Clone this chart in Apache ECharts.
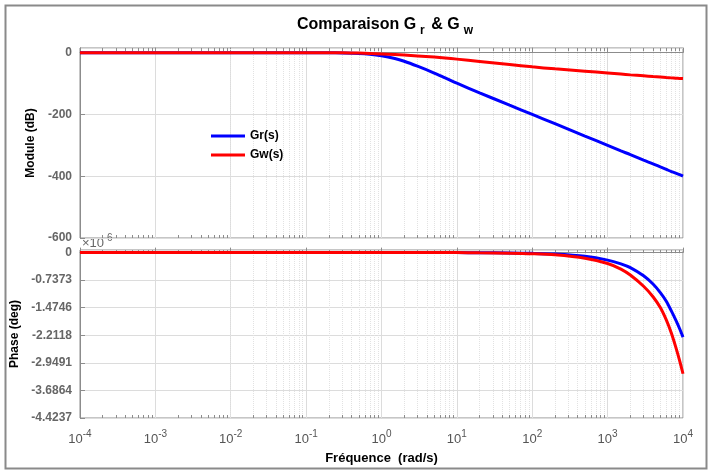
<!DOCTYPE html>
<html>
<head>
<meta charset="utf-8">
<script src="https://cdn.jsdelivr.net/npm/echarts@6/dist/echarts.min.js"></script>
<style>
html,body{margin:0;padding:0;background:#fff;}
#chart{width:708px;height:476px;}
</style>
</head>
<body>
<div id="chart"></div>
<script>
// ---- data ----
const freq = [1e-4, 1e-3, 1e-2, 0.1, 0.2, 0.3, 0.5, 0.7, 1, 1.5, 2, 3, 5, 7, 10, 20, 50, 100, 200, 500, 1000, 1500, 2000, 3000, 4000, 5000, 6000, 7000, 8000, 9000, 10000];
const grMag = [0, 0, 0, 0, -0.4, -0.9, -2.5, -5, -10, -19, -28, -44, -66, -82, -99, -130, -170, -200, -230, -270, -300, -318, -330, -348, -360, -370, -378, -385, -390, -395, -400];
const gwMag = [0, 0, 0, -0.1, -0.3, -0.6, -1.5, -2.6, -4.2, -6.3, -8, -10.7, -14.5, -17.5, -21, -28.5, -38.5, -46, -52.5, -60, -66, -69.5, -72, -75, -77.5, -79, -80.5, -81.7, -82.7, -83.4, -84];
// phase in units of 10^6 deg
const grPhase = [0, 0, 0, 0, 0, 0, 0, 0, 0, 0, 0, 0, 0, 0, 0, -0.004, -0.01, -0.02, -0.04, -0.1, -0.2, -0.3, -0.4, -0.62, -0.84, -1.07, -1.3, -1.56, -1.8, -2.03, -2.26];
const gwPhase = [0, 0, 0, 0, 0, 0, 0, 0, 0, 0, 0, 0, 0, 0, 0, -0.006, -0.015, -0.03, -0.06, -0.15, -0.29, -0.44, -0.6, -0.9, -1.18, -1.47, -1.8, -2.15, -2.52, -2.88, -3.24];
const seriesNames = ['Gr(s)', 'Gw(s)'];
const magTicks = [0, -200, -400, -600];
const phaseTickLabels = ['0', '-0.7373', '-1.4746', '-2.2118', '-2.9491', '-3.6864', '-4.4237'];
const phaseTickValues = [0, -0.7373, -1.4746, -2.2118, -2.9491, -3.6864, -4.4237];
const xDecades = [-4, -3, -2, -1, 0, 1, 2, 3, 4];

const FONT = '"Liberation Sans", Arial, Helvetica, sans-serif';
const BLUE = '#0000ff', RED = '#ff0000';

function pairs(xs, ys){ return xs.map((x,i)=>[x, ys[i]]); }

// y extents of the two panels
const yExt = [{min: -600, max: 15, px: 190}, {min: -4.4237, max: 0.07, px: 168}];

// minor grid positions for a log axis (2..9 x 10^n)
const minorPos = [];
for (let n = xDecades[0]; n < xDecades[xDecades.length-1]; n++) {
  for (let k = 2; k <= 9; k++) minorPos.push(k * Math.pow(10, n));
}
const minorX = minorPos.map(v => ({xAxis: v}));

const chart = echarts.init(document.getElementById('chart'), null, {renderer:'canvas'});

const xAxisCommon = {
  type: 'log', logBase: 10, min: 1e-4, max: 1e4,
  axisLine: {show: true, lineStyle: {color: '#8c8c8c', width: 1}},
  axisTick: {show: true, inside: true, length: 5, lineStyle: {color: '#8c8c8c'}},
  splitLine: {show: true, lineStyle: {color: '#dcdcdc', width: 1}},
};

function minorSeries(ax) {
  const e = yExt[ax];
  return {name: 'minor' + ax, type: 'line', xAxisIndex: ax, yAxisIndex: ax,
    data: [[1e-4, e.min], [1e4, e.min]],
    symbol: 'none', lineStyle: {opacity: 0}, silent: true, z: 1,
    markLine: {silent: true, symbol: 'none', label: {show: false}, animation: false, z: 1,
      lineStyle: {color: '#e2e2e2', type: 'dotted', width: 1}, data: minorX}};
}
function minorTickSeries(ax) {
  const e = yExt[ax];
  const d = (e.max - e.min) * 3 / e.px; // 3 px tick
  const segs = [];
  minorPos.forEach(v => {
    segs.push([{coord: [v, e.max]}, {coord: [v, e.max - d]}]);
    segs.push([{coord: [v, e.min]}, {coord: [v, e.min + d]}]);
  });
  return {name: 'mtick' + ax, type: 'line', xAxisIndex: ax, yAxisIndex: ax,
    data: [[1e-4, e.min], [1e4, e.min]],
    symbol: 'none', lineStyle: {opacity: 0}, silent: true, z: 2,
    markLine: {silent: true, symbol: 'none', label: {show: false}, animation: false, z: 2,
      lineStyle: {color: '#8c8c8c', type: 'solid', width: 1}, data: segs}};
}

const option = {
  animation: false,
  backgroundColor: '#ffffff',
  textStyle: {fontFamily: FONT},
  title: {
    text: '{t|Comparaison G}{s|r}{t| & G}{s|w}',
    left: 381, top: 8, textAlign: 'center',
    textStyle: {
      rich: {
        t: {fontFamily: FONT, fontSize: 16, fontWeight: 'bold', color: '#000'},
        s: {fontFamily: FONT, fontSize: 12, fontWeight: 'bold', color: '#000', padding: [12, 2, 0, 4]}
      }
    }
  },
  legend: {
    data: seriesNames,
    orient: 'vertical',
    left: 206, top: 125,
    itemWidth: 34, itemHeight: 3, itemGap: 7,
    icon: 'rect',
    textStyle: {fontFamily: FONT, fontSize: 12, fontWeight: 'bold', color: '#000'}
  },
  grid: [
    {left: 80, right: 25, top: 48, height: yExt[0].px, show: true, borderColor: '#8c8c8c', borderWidth: 1, containLabel: false},
    {left: 80, right: 25, top: 250, height: yExt[1].px, show: true, borderColor: '#8c8c8c', borderWidth: 1, containLabel: false}
  ],
  xAxis: [
    Object.assign({}, xAxisCommon, {gridIndex: 0, axisLabel: {show: false}}),
    Object.assign({}, xAxisCommon, {
      gridIndex: 1,
      name: 'Fréquence  (rad/s)', nameLocation: 'middle', nameGap: 34,
      nameTextStyle: {fontFamily: FONT, fontSize: 13, fontWeight: 'bold', color: '#000'},
      axisLabel: {
        show: true, margin: 11,
        formatter: v => '{b|10}{p|' + Math.round(Math.log10(v)) + '}',
        rich: {
          b: {fontFamily: FONT, fontSize: 13, color: '#555'},
          p: {fontFamily: FONT, fontSize: 10, color: '#555', padding: [0, 0, 10, 0]}
        }
      }
    })
  ],
  yAxis: [
    {
      type: 'value', gridIndex: 0, min: yExt[0].min, max: yExt[0].max, interval: 200,
      name: 'Module (dB)', nameLocation: 'middle', nameGap: 42, nameRotate: 90,
      nameTextStyle: {fontFamily: FONT, fontSize: 12, fontWeight: 'bold', color: '#000'},
      axisLine: {show: true, lineStyle: {color: '#8c8c8c'}},
      axisTick: {show: true, inside: true, length: 5, lineStyle: {color: '#8c8c8c'}},
      splitLine: {show: true, lineStyle: {color: '#dcdcdc'}},
      axisLabel: {
        fontFamily: FONT, fontSize: 12, fontWeight: 'bold', color: '#666', margin: 8,
        formatter: v => magTicks.indexOf(Math.round(v)) >= 0 && Math.abs(v - Math.round(v)) < 1e-6 ? String(Math.round(v)) : '',
        showMaxLabel: false
      }
    },
    {
      type: 'value', gridIndex: 1, min: yExt[1].min, max: yExt[1].max, interval: 4.4237 / 6,
      name: 'Phase (deg)', nameLocation: 'middle', nameGap: 59, nameRotate: 90,
      nameTextStyle: {fontFamily: FONT, fontSize: 12, fontWeight: 'bold', color: '#000'},
      axisLine: {show: true, lineStyle: {color: '#8c8c8c'}},
      axisTick: {show: true, inside: true, length: 5, lineStyle: {color: '#8c8c8c'}},
      splitLine: {show: true, lineStyle: {color: '#dcdcdc'}},
      axisLabel: {
        fontFamily: FONT, fontSize: 12, fontWeight: 'bold', color: '#666', margin: 8,
        showMaxLabel: false,
        formatter: v => {
          let best = -1, bd = 1e9;
          phaseTickValues.forEach((t, i) => { const d = Math.abs(t - v); if (d < bd) { bd = d; best = i; } });
          return bd < 0.01 ? phaseTickLabels[best] : '';
        }
      }
    }
  ],
  graphic: [
    {type: 'rect', left: 3, top: 3, shape: {width: 701, height: 463}, style: {fill: 'none', stroke: '#8a8a8a', lineWidth: 2}, z: 100},
    {type: 'text', left: 82, top: 237, style: {text: '×10', fill: '#666', font: '13px ' + FONT}},
    {type: 'text', left: 107, top: 233, style: {text: '6', fill: '#666', font: '10px ' + FONT}}
  ],
  series: [
    minorSeries(0),
    minorSeries(1),
    minorTickSeries(0),
    minorTickSeries(1),
    {name: seriesNames[0], type: 'line', xAxisIndex: 0, yAxisIndex: 0, data: pairs(freq, grMag),
      symbol: 'none', smooth: 0.3, lineStyle: {color: BLUE, width: 3}, itemStyle: {color: BLUE}, z: 5},
    {name: seriesNames[1], type: 'line', xAxisIndex: 0, yAxisIndex: 0, data: pairs(freq, gwMag),
      symbol: 'none', smooth: 0.3, lineStyle: {color: RED, width: 3}, itemStyle: {color: RED}, z: 6},
    {name: seriesNames[0], type: 'line', xAxisIndex: 1, yAxisIndex: 1, data: pairs(freq, grPhase),
      symbol: 'none', smooth: 0.3, lineStyle: {color: BLUE, width: 3}, itemStyle: {color: BLUE}, z: 5},
    {name: seriesNames[1], type: 'line', xAxisIndex: 1, yAxisIndex: 1, data: pairs(freq, gwPhase),
      symbol: 'none', smooth: 0.3, lineStyle: {color: RED, width: 3}, itemStyle: {color: RED}, z: 6}
  ]
};
chart.setOption(option);
</script>
</body>
</html>
